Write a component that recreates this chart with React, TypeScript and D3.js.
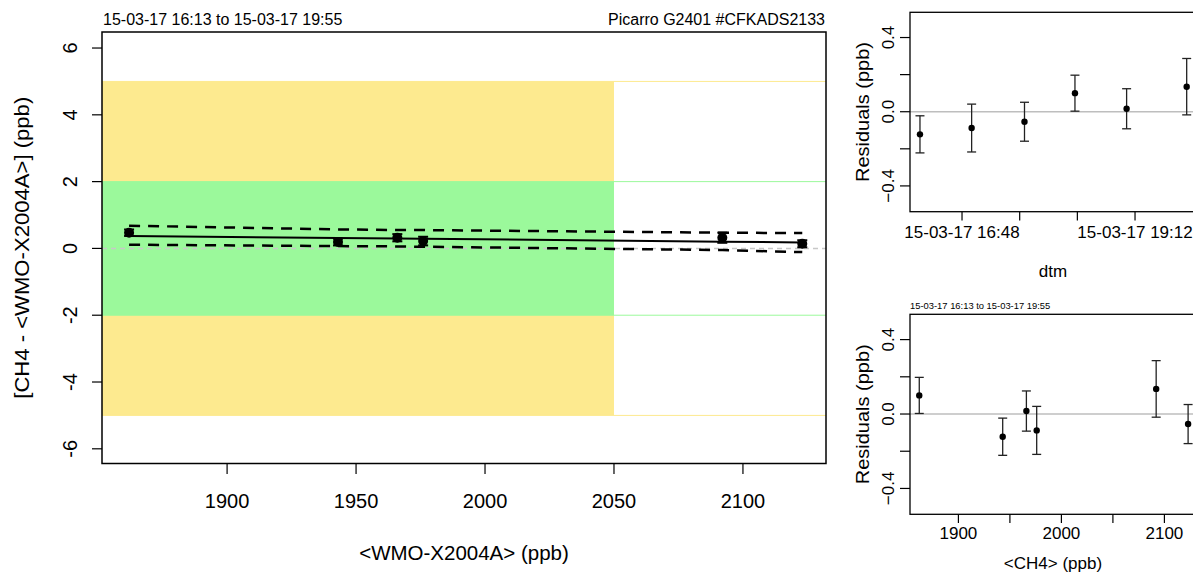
import React from 'react';
import * as d3 from 'd3';

// reference gas concentrations (ppb) and measured offsets
const conc = [1862, 1943, 1966, 1976, 2092, 2123];
const diffVals = [0.47, 0.19, 0.32, 0.22, 0.32, 0.14];
const diffErr = [0.097, 0.1, 0.108, 0.129, 0.152, 0.105];

// fitted line and its confidence band at each concentration
const fitVals = [0.37, 0.31, 0.3, 0.29, 0.2, 0.18];
const upperVals = [0.68, 0.57, 0.55, 0.55, 0.47, 0.46];
const lowerVals = [0.11, 0.07, 0.06, 0.05, -0.05, -0.11];

// residuals of the fit
const residuals = [0.1, -0.122, 0.016, -0.088, 0.135, -0.054];
const resErr = [0.097, 0.1, 0.108, 0.129, 0.152, 0.105];
const sampleTimes = ['18:22', '16:13', '19:05', '16:56', '19:55', '17:40'];

const mainXTicks = [1900, 1950, 2000, 2050, 2100];
const mainYTicks = [-6, -4, -2, 0, 2, 4, 6];
const resYTicks = [-0.4, -0.2, 0, 0.2, 0.4];
const resYLabels = [-0.4, 0, 0.4];
const timeTicks = ['16:48', '17:36', '18:24', '19:12'];
const timeTickLabels = ['16:48', '19:12'];
const concTicks = [1900, 1950, 2000, 2050, 2100];
const concTickLabels = [1900, 2000, 2100];

const W = 1193;
const H = 573;
const FONT = 'Liberation Sans, Arial, Helvetica, sans-serif';

const toDate = (hm: string) => {
  const [h, m] = hm.split(':').map(Number);
  return new Date(2015, 2, 17, h, m);
};
const fmtTime = d3.timeFormat('%y-%m-%d %H:%M');

const App = () => {
  // main panel
  const mx = d3.scaleLinear().domain([1851.5, 2132.2]).range([102, 826]);
  const my = d3.scaleLinear().domain([-6.44, 6.48]).range([463.5, 32]);

  const line = (vals: number[]) =>
    d3.line<number>().x((_, i) => mx(conc[i])).y(v => my(v))(vals) || '';

  // residual panels
  const tx = d3.scaleTime()
    .domain([new Date(2015, 2, 17, 16, 4, 42), new Date(2015, 2, 17, 20, 4)])
    .range([910, 1197.5]);
  const cx = d3.scaleLinear().domain([1853, 2133]).range([910, 1198.4]);
  const ry1 = d3.scaleLinear().domain([-0.539, 0.536]).range([211.7, 12.3]);
  const ry2 = d3.scaleLinear().domain([-0.539, 0.536]).range([514.3, 314.3]);

  const resPanel = (
    ry: d3.ScaleLinear<number, number>,
    xs: number[],
    top: number,
    bottom: number
  ) => (
    <g>
      <line x1={910} x2={1200} y1={ry(0)} y2={ry(0)} stroke="#bebebe" strokeWidth={1.5} />
      {xs.map((x, i) => (
        <g key={i} stroke="#222" strokeWidth={1.3}>
          <line x1={x} x2={x} y1={ry(residuals[i] - resErr[i])} y2={ry(residuals[i] + resErr[i])} />
          <line x1={x - 4.5} x2={x + 4.5} y1={ry(residuals[i] - resErr[i])} y2={ry(residuals[i] - resErr[i])} />
          <line x1={x - 4.5} x2={x + 4.5} y1={ry(residuals[i] + resErr[i])} y2={ry(residuals[i] + resErr[i])} />
          <circle cx={x} cy={ry(residuals[i])} r={3.2} fill="#000" stroke="none" />
        </g>
      ))}
      <rect x={910} y={top} width={300} height={bottom - top} fill="none" stroke="#000" strokeWidth={1.3} />
      {resYTicks.map(v => (
        <line key={v} x1={910} x2={900} y1={ry(v)} y2={ry(v)} stroke="#000" strokeWidth={1.2} />
      ))}
      {resYLabels.map(v => (
        <text key={v} transform={`translate(888,${ry(v)}) rotate(-90)`} textAnchor="middle" dy="0.35em" fontSize={17}>
          {d3.format('.1f')(v)}
        </text>
      ))}
      <text transform={`translate(862,${(top + bottom) / 2}) rotate(-90)`} textAnchor="middle" dy="0.35em" fontSize={19}
        textLength={140} lengthAdjust="spacingAndGlyphs">
        Residuals (ppb)
      </text>
    </g>
  );

  return (
    <svg width={W} height={H} style={{ position: 'absolute', left: 0, top: 0, display: 'block', background: '#fff' }} fontFamily={FONT}>
      {/* main panel backgrounds */}
      <rect x={mx(1851.5)} y={my(5)} width={mx(2050) - mx(1851.5)} height={my(-5) - my(5)} fill="#fdea8f" />
      <rect x={mx(1851.5)} y={my(2)} width={mx(2050) - mx(1851.5)} height={my(-2) - my(2)} fill="#9bf99b" />
      {[5, -5].map(v => (
        <line key={v} x1={102} x2={826} y1={my(v)} y2={my(v)} stroke="#fdea8f" strokeWidth={1} />
      ))}
      {[2, -2].map(v => (
        <line key={v} x1={102} x2={826} y1={my(v)} y2={my(v)} stroke="#9bf99b" strokeWidth={1} />
      ))}
      <line x1={102} x2={826} y1={my(0)} y2={my(0)} stroke="#c8c8c8" strokeWidth={1.5} strokeDasharray="5,4" />

      {/* fit and confidence band */}
      <path d={line(upperVals)} fill="none" stroke="#000" strokeWidth={2.5} strokeDasharray="11,8" />
      <path d={line(lowerVals)} fill="none" stroke="#000" strokeWidth={2.5} strokeDasharray="11,8" />
      <path d={line(fitVals)} fill="none" stroke="#000" strokeWidth={2} />

      {conc.map((c, i) => (
        <g key={c} stroke="#000" strokeWidth={2}>
          <line x1={mx(c)} x2={mx(c)} y1={my(diffVals[i] - diffErr[i])} y2={my(diffVals[i] + diffErr[i])} />
          <line x1={mx(c) - 5} x2={mx(c) + 5} y1={my(diffVals[i] - diffErr[i])} y2={my(diffVals[i] - diffErr[i])} />
          <line x1={mx(c) - 5} x2={mx(c) + 5} y1={my(diffVals[i] + diffErr[i])} y2={my(diffVals[i] + diffErr[i])} />
          <circle cx={mx(c)} cy={my(diffVals[i])} r={5} fill="#000" stroke="none" />
        </g>
      ))}

      <rect x={102} y={32} width={724} height={431.5} fill="none" stroke="#000" strokeWidth={1.5} />
      {mainXTicks.map(v => (
        <g key={v}>
          <line x1={mx(v)} x2={mx(v)} y1={463.5} y2={474} stroke="#000" strokeWidth={1.2} />
          <text x={mx(v)} y={508} textAnchor="middle" fontSize={20}>{v}</text>
        </g>
      ))}
      {mainYTicks.map(v => (
        <g key={v}>
          <line x1={102} x2={92} y1={my(v)} y2={my(v)} stroke="#000" strokeWidth={1.2} />
          <text transform={`translate(70,${my(v)}) rotate(-90)`} textAnchor="middle" dy="0.35em" fontSize={20}>{v}</text>
        </g>
      ))}
      <text x={464} y={560} textAnchor="middle" fontSize={20.5}>{'<WMO-X2004A> (ppb)'}</text>
      <text transform={`translate(22,${(32 + 463.5) / 2}) rotate(-90)`} textAnchor="middle" dy="0.35em" fontSize={21}
        textLength={302} lengthAdjust="spacingAndGlyphs">
        {'[CH4 - <WMO-X2004A>] (ppb)'}
      </text>
      <text x={103} y={25} fontSize={16}>15-03-17 16:13 to 15-03-17 19:55</text>
      <text x={825} y={25} textAnchor="end" fontSize={16}>Picarro G2401 #CFKADS2133</text>

      {/* residuals vs time */}
      {resPanel(ry1, sampleTimes.map(t => tx(toDate(t))), 12.3, 211.7)}
      {timeTicks.map(t => (
        <line key={t} x1={tx(toDate(t))} x2={tx(toDate(t))} y1={211.7} y2={220.5} stroke="#000" strokeWidth={1.2} />
      ))}
      {timeTickLabels.map(t => (
        <text key={t} x={tx(toDate(t))} y={238} textAnchor="middle" fontSize={17}>{fmtTime(toDate(t))}</text>
      ))}
      <text x={1053} y={277} textAnchor="middle" fontSize={17}>dtm</text>

      {/* residuals vs concentration */}
      <text x={910} y={309} fontSize={9.4}>15-03-17 16:13 to 15-03-17 19:55</text>
      {resPanel(ry2, conc.map(c => cx(c)), 314.3, 514.3)}
      {concTicks.map(v => (
        <line key={v} x1={cx(v)} x2={cx(v)} y1={514.3} y2={523} stroke="#000" strokeWidth={1.2} />
      ))}
      {concTickLabels.map(v => (
        <text key={v} x={cx(v)} y={539} textAnchor="middle" fontSize={17}>{v}</text>
      ))}
      <text x={1053} y={569} textAnchor="middle" fontSize={17}>{'<CH4> (ppb)'}</text>
    </svg>
  );
};

export default App;
